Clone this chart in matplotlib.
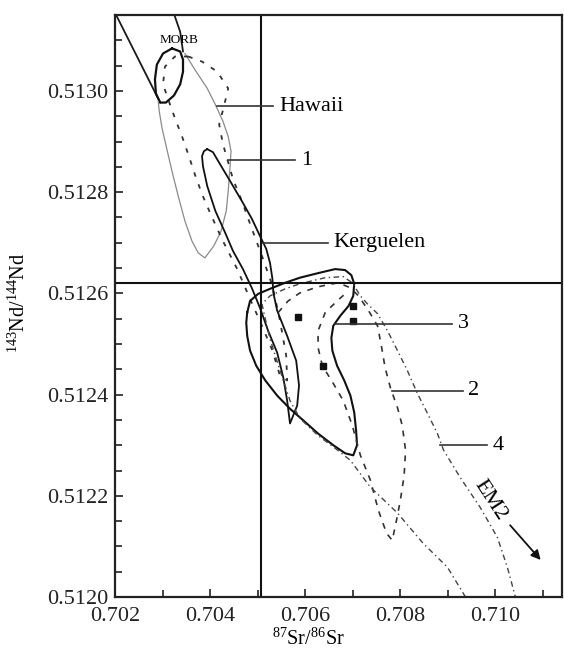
import matplotlib
matplotlib.use('Agg')
import matplotlib.pyplot as plt
from matplotlib.ticker import MultipleLocator, FormatStrFormatter

plt.rcParams['font.family'] = 'Liberation Serif'
plt.rcParams['mathtext.fontset'] = 'custom'
plt.rcParams['mathtext.rm'] = 'Liberation Serif'
plt.rcParams['mathtext.it'] = 'Liberation Serif:italic'
plt.rcParams['xtick.direction'] = 'in'
plt.rcParams['ytick.direction'] = 'in'

# 87Sr/86Sr vs 143Nd/144Nd field outlines
morb_left_sr = [0.70204, 0.70295]
morb_left_nd = [0.513147, 0.512977]
morb_right_sr = [0.70326, 0.70337, 0.70343]
morb_right_nd = [0.513147, 0.513117, 0.513078]

morb_core_sr = [0.70320, 0.70337, 0.70343, 0.70343, 0.70337, 0.70324, 0.70307,
                0.70295, 0.70286, 0.70284, 0.70288, 0.70301, 0.70320]
morb_core_nd = [0.513084, 0.513078, 0.513062, 0.513038, 0.513013, 0.512991, 0.512977,
                0.512977, 0.512995, 0.513023, 0.513052, 0.513074, 0.513084]

hawaii_sr = [0.70291, 0.70293, 0.70299, 0.70309, 0.70320, 0.70333, 0.70347, 0.70362,
             0.70375, 0.70389, 0.70408, 0.70423, 0.70434, 0.70438, 0.70442, 0.70444,
             0.70438, 0.70427, 0.70411, 0.70394, 0.70368, 0.70347]
hawaii_nd = [0.512979, 0.512960, 0.512926, 0.512885, 0.512841, 0.512792, 0.512743, 0.512703,
             0.512680, 0.512670, 0.512694, 0.512723, 0.512763, 0.512802, 0.512851, 0.512881,
             0.512910, 0.512940, 0.512973, 0.513005, 0.513042, 0.513074]

field1_sr = [0.70354, 0.70383, 0.70415, 0.70438, 0.70429, 0.70419, 0.70427, 0.70448,
             0.70467, 0.70488, 0.70509, 0.70531, 0.70547, 0.70560, 0.70562, 0.70547,
             0.70531, 0.70509, 0.70484, 0.70457, 0.70425, 0.70400, 0.70383, 0.70368,
             0.70354, 0.70341, 0.70326, 0.70312, 0.70301, 0.70305, 0.70326, 0.70354]
field1_nd = [0.513068, 0.513058, 0.513038, 0.513005, 0.512969, 0.512934, 0.512895, 0.512826,
             0.512782, 0.512727, 0.512674, 0.512615, 0.512546, 0.512477, 0.512428, 0.512437,
             0.512487, 0.512536, 0.512589, 0.512648, 0.512707, 0.512759, 0.512796, 0.512835,
             0.512875, 0.512910, 0.512946, 0.512983, 0.513013, 0.513048, 0.513068, 0.513068]

kerg_sr = [0.70394, 0.70406, 0.70421, 0.70442, 0.70467, 0.70488, 0.70505, 0.70518,
           0.70526, 0.70531, 0.70533, 0.70541, 0.70562, 0.70581, 0.70587, 0.70583,
           0.70568, 0.70562, 0.70554, 0.70541, 0.70522, 0.70505, 0.70488, 0.70469,
           0.70448, 0.70432, 0.70411, 0.70394, 0.70385, 0.70383, 0.70387, 0.70394]
kerg_nd = [0.512885, 0.512879, 0.512855, 0.512822, 0.512782, 0.512747, 0.512713, 0.512688,
           0.512660, 0.512629, 0.512601, 0.512566, 0.512516, 0.512467, 0.512418, 0.512378,
           0.512343, 0.512388, 0.512433, 0.512483, 0.512526, 0.512571, 0.512610, 0.512648,
           0.512684, 0.512719, 0.512763, 0.512812, 0.512851, 0.512871, 0.512881, 0.512885]

field3_sr = [0.70478, 0.70484, 0.70501, 0.70526, 0.70558, 0.70589, 0.70627, 0.70663,
             0.70684, 0.70697, 0.70703, 0.70701, 0.70691, 0.70674, 0.70659, 0.70655,
             0.70657, 0.70667, 0.70682, 0.70695, 0.70703, 0.70707, 0.70709, 0.70701,
             0.70684, 0.70659, 0.70627, 0.70596, 0.70568, 0.70541, 0.70516, 0.70497,
             0.70484, 0.70478, 0.70476, 0.70478]
field3_nd = [0.512562, 0.512585, 0.512599, 0.512609, 0.512621, 0.512631, 0.512640, 0.512648,
             0.512646, 0.512636, 0.512619, 0.512595, 0.512575, 0.512556, 0.512536, 0.512512,
             0.512487, 0.512457, 0.512428, 0.512398, 0.512365, 0.512329, 0.512300, 0.512280,
             0.512284, 0.512300, 0.512323, 0.512349, 0.512372, 0.512398, 0.512428, 0.512457,
             0.512487, 0.512516, 0.512542, 0.512562]

field2_sr = [0.70543, 0.70564, 0.70589, 0.70627, 0.70669, 0.70695, 0.70712, 0.70733,
             0.70752, 0.70760, 0.70768, 0.70779, 0.70794, 0.70804, 0.70811, 0.70808,
             0.70800, 0.70792, 0.70783, 0.70771, 0.70754, 0.70737, 0.70716, 0.70699,
             0.70680, 0.70659, 0.70636, 0.70627, 0.70627, 0.70642, 0.70667, 0.70691]
field2_nd = [0.512562, 0.512585, 0.512601, 0.512613, 0.512621, 0.512611, 0.512595, 0.512566,
             0.512536, 0.512497, 0.512453, 0.512414, 0.512374, 0.512339, 0.512290, 0.512240,
             0.512191, 0.512152, 0.512112, 0.512126, 0.512171, 0.512231, 0.512280, 0.512339,
             0.512388, 0.512422, 0.512457, 0.512493, 0.512526, 0.512562, 0.512585, 0.512605]

field4_sr = [0.70937, 0.70899, 0.70848, 0.70794, 0.70737, 0.70695, 0.70663, 0.70627,
             0.70589, 0.70568, 0.70554, 0.70539, 0.70526, 0.70516, 0.70509, 0.70526,
             0.70558, 0.70589, 0.70642, 0.70680, 0.70699, 0.70716, 0.70731, 0.70752,
             0.70773, 0.70794, 0.70815, 0.70836, 0.70857, 0.70878, 0.70891, 0.70926,
             0.70968, 0.71004, 0.71025, 0.71042]
field4_nd = [0.512000, 0.512059, 0.512106, 0.512166, 0.512217, 0.512270, 0.512294, 0.512319,
             0.512353, 0.512388, 0.512428, 0.512471, 0.512510, 0.512550, 0.512579, 0.512595,
             0.512609, 0.512619, 0.512631, 0.512633, 0.512621, 0.512595, 0.512579, 0.512560,
             0.512526, 0.512487, 0.512447, 0.512402, 0.512363, 0.512323, 0.512290, 0.512236,
             0.512177, 0.512118, 0.512059, 0.512000]

# individual samples
sample_sr = [0.70585, 0.70638, 0.70701, 0.70701]
sample_nd = [0.512554, 0.512457, 0.512575, 0.512546]

# bulk earth reference
bse_sr = 0.70508
chur_nd = 0.51262

# labels: (text, leader start Sr, leader end Sr, Nd)
labels = [
    ('Hawaii', 0.70415, 0.70533, 0.512970),
    ('1', 0.70438, 0.70579, 0.512863),
    ('Kerguelen', 0.70512, 0.70648, 0.512700),
    ('3', 0.70663, 0.70909, 0.512540),
    ('2', 0.70783, 0.70931, 0.512408),
    ('4', 0.70884, 0.70983, 0.512300),
]

fig = plt.figure(figsize=(5.64, 6.5), dpi=100)
ax = fig.add_axes([0.2039, 0.0815, 0.7926, 0.8954])

ax.plot(morb_left_sr, morb_left_nd, color='#1a1a1a', lw=1.3)
ax.plot(morb_right_sr, morb_right_nd, color='#1a1a1a', lw=1.3)
ax.plot(morb_core_sr, morb_core_nd, color='#111111', lw=1.6)
ax.plot(hawaii_sr, hawaii_nd, color='#8a8a8a', lw=0.9)
ax.plot(field1_sr, field1_nd, color='#333333', lw=1.3, dashes=(2.5, 4.5))
ax.plot(kerg_sr, kerg_nd, color='#111111', lw=1.3)
ax.plot(field3_sr, field3_nd, color='#111111', lw=1.5)
ax.plot(field2_sr, field2_nd, color='#333333', lw=1.2, dashes=(3.5, 4))
ax.plot(field4_sr, field4_nd, color='#444444', lw=1.0, dashes=(4, 2.5, 1, 2.5))
ax.plot(sample_sr, sample_nd, 's', color='#111111', ms=4)

ax.axvline(bse_sr, color='#111111', lw=1.5)
ax.axhline(chur_nd, color='#111111', lw=1.5)

for text, x0, x1, y in labels:
    ax.plot([x0, x1], [y, y], color='#333333', lw=1.2)
    ax.text(x1 + 0.00012, y, text, fontsize=16, va='center', ha='left')

ax.text(0.70335, 0.513100, 'MORB', fontsize=9.5, ha='center', va='center')

ax.text(0.70989, 0.512191, 'EM2', fontsize=16, rotation=-57,
        ha='center', va='center', rotation_mode='anchor')
ax.annotate('', xy=(0.71099, 0.512069), xytext=(0.71027, 0.512146),
            arrowprops=dict(arrowstyle='-|>', color='#111111', lw=1.3,
                            mutation_scale=14))

ax.set_xlim(0.702, 0.7114)
ax.set_ylim(0.5120, 0.51315)
ax.xaxis.set_major_locator(MultipleLocator(0.002))
ax.xaxis.set_minor_locator(MultipleLocator(0.001))
ax.yaxis.set_major_locator(MultipleLocator(0.0002))
ax.yaxis.set_minor_locator(MultipleLocator(0.00005))
ax.xaxis.set_major_formatter(FormatStrFormatter('%.3f'))
ax.yaxis.set_major_formatter(FormatStrFormatter('%.4f'))
ax.tick_params(which='both', labelsize=16, width=1.2, colors='#222222', pad=5)
ax.tick_params(axis='x', which='both', pad=7)
ax.tick_params(which='major', length=6)
ax.tick_params(which='minor', length=5)
ax.tick_params(top=False, right=False)

for loc in ['top', 'bottom', 'left', 'right']:
    ax.spines[loc].set_linewidth(1.6)
    ax.spines[loc].set_color('#222222')

ax.set_xlabel(r'$^{87}$Sr/$^{86}$Sr', fontsize=14.5)
ax.xaxis.set_label_coords(0.432, -0.055)
ax.set_ylabel(r'$^{143}$Nd/$^{144}$Nd', fontsize=14.5)
ax.yaxis.set_label_coords(-0.19, 0.505)

plt.savefig('out.png', dpi=100)
